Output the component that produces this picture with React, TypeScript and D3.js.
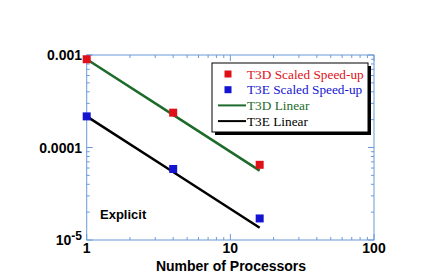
import React from "react";
import * as d3 from "d3";

const processors = [1, 4, 16];
const t3dScaled = [0.0009, 0.000238, 0.000065];
const t3eScaled = [0.000217, 0.0000586, 0.0000171];
const t3dLinear = [0.0009, 0.000225, 0.00005625];
const t3eLinear = [0.000217, 0.00005425, 0.0000135625];
const xTicks = [1, 10, 100];
const yTicks = [0.00001, 0.0001, 0.001];
const yTickLabels = ["10", "0.0001", "0.001"];

const W = 432, H = 277;
const L = 86.7, R = 374, T = 55, B = 240;
const AX = "#6a9ad8";
const RED = "#e01018", BLUE = "#1414d0", GREEN = "#1d6b2b";

export default function App() {
  const x = d3.scaleLog().domain([1, 100]).range([L, R]);
  const y = d3.scaleLog().domain([0.00001, 0.001]).range([B, T]);
  const line = d3.line<number>().x((_, i) => x(processors[i])).y((d) => y(d));

  const xMinor: number[] = [];
  [1, 10].forEach((d) => { for (let k = 2; k <= 9; k++) xMinor.push(d * k); });
  const yMinor: number[] = [];
  [0.00001, 0.0001].forEach((d) => { for (let k = 2; k <= 9; k++) yMinor.push(d * k); });

  const font = "'Liberation Sans', Arial, sans-serif";
  const serif = "'Liberation Serif', 'Times New Roman', serif";
  const ms = 8;

  const legendRows = [
    { kind: "sq", color: RED, text: "T3D Scaled Speed-up" },
    { kind: "sq", color: BLUE, text: "T3E Scaled Speed-up" },
    { kind: "ln", color: GREEN, text: "T3D Linear" },
    { kind: "ln", color: "#000", text: "T3E Linear" },
  ];
  const lx = 212, ly = 63, lw = 156, lh = 69;

  return (
    <svg width={W} height={H} style={{ position: "absolute", left: 0, top: 0, background: "#fff" }}>
      <rect x={0} y={0} width={W} height={H} fill="#fff" />
      <rect x={L} y={T} width={R - L} height={B - T} fill="none" stroke={AX} strokeWidth={1} />
      {xTicks.map((t) => (
        <g key={"xt" + t}>
          <line x1={x(t)} x2={x(t)} y1={B} y2={B - 6} stroke={AX} />
          <line x1={x(t)} x2={x(t)} y1={T} y2={T + 6} stroke={AX} />
        </g>
      ))}
      {xMinor.map((t) => (
        <g key={"xm" + t}>
          <line x1={x(t)} x2={x(t)} y1={B} y2={B - 3} stroke={AX} />
          <line x1={x(t)} x2={x(t)} y1={T} y2={T + 3} stroke={AX} />
        </g>
      ))}
      {yTicks.map((t) => (
        <g key={"yt" + t}>
          <line x1={L} x2={L + 6} y1={y(t)} y2={y(t)} stroke={AX} />
          <line x1={R} x2={R - 6} y1={y(t)} y2={y(t)} stroke={AX} />
        </g>
      ))}
      {yMinor.map((t) => (
        <g key={"ym" + t}>
          <line x1={L} x2={L + 3} y1={y(t)} y2={y(t)} stroke={AX} />
          <line x1={R} x2={R - 3} y1={y(t)} y2={y(t)} stroke={AX} />
        </g>
      ))}
      {xTicks.map((t) => (
        <text key={"xl" + t} x={x(t)} y={253} textAnchor="middle" fontFamily={font} fontWeight="bold" fontSize={14}>
          {t}
        </text>
      ))}
      {yTicks.map((t, i) =>
        i === 0 ? (
          <text key={"yl" + t} x={82} y={y(t) + 4.5} textAnchor="end" fontFamily={font} fontWeight="bold" fontSize={14}>
            10<tspan dy={-5} fontSize={12}>-5</tspan>
          </text>
        ) : (
          <text key={"yl" + t} x={82} y={y(t) + 5} textAnchor="end" fontFamily={font} fontWeight="bold" fontSize={14}>
            {yTickLabels[i]}
          </text>
        )
      )}
      <text x={231} y={271} textAnchor="middle" fontFamily={font} fontWeight="bold" fontSize={14}>
        Number of Processors
      </text>
      <text x={100} y={219} fontFamily={font} fontWeight="bold" fontSize={13}>
        Explicit
      </text>
      <path d={line(t3dLinear) || ""} fill="none" stroke={GREEN} strokeWidth={2.5} />
      <path d={line(t3eLinear) || ""} fill="none" stroke="#000" strokeWidth={2.5} />
      {t3dScaled.map((v, i) => (
        <rect key={"r" + i} x={x(processors[i]) - ms / 2} y={y(v) - ms / 2} width={ms} height={ms} fill={RED} />
      ))}
      {t3eScaled.map((v, i) => (
        <rect key={"b" + i} x={x(processors[i]) - ms / 2} y={y(v) - ms / 2} width={ms} height={ms} fill={BLUE} />
      ))}
      <rect x={lx + 3} y={ly + 3} width={lw} height={lh} fill="#000" />
      <rect x={lx} y={ly} width={lw} height={lh} fill="#fff" stroke="#000" strokeWidth={1} />
      {legendRows.map((r, i) => {
        const cy = 74 + i * 15.7;
        return (
          <g key={"lg" + i}>
            {r.kind === "sq" ? (
              <rect x={228 - 3.5} y={cy - 3.5} width={7} height={7} fill={r.color} />
            ) : (
              <line x1={218} x2={246} y1={cy} y2={cy} stroke={r.color} strokeWidth={2} />
            )}
            <text x={247} y={cy + 4.5} fontFamily={serif} fontSize={13.3} fill={r.color}>
              {r.text}
            </text>
          </g>
        );
      })}
    </svg>
  );
}
